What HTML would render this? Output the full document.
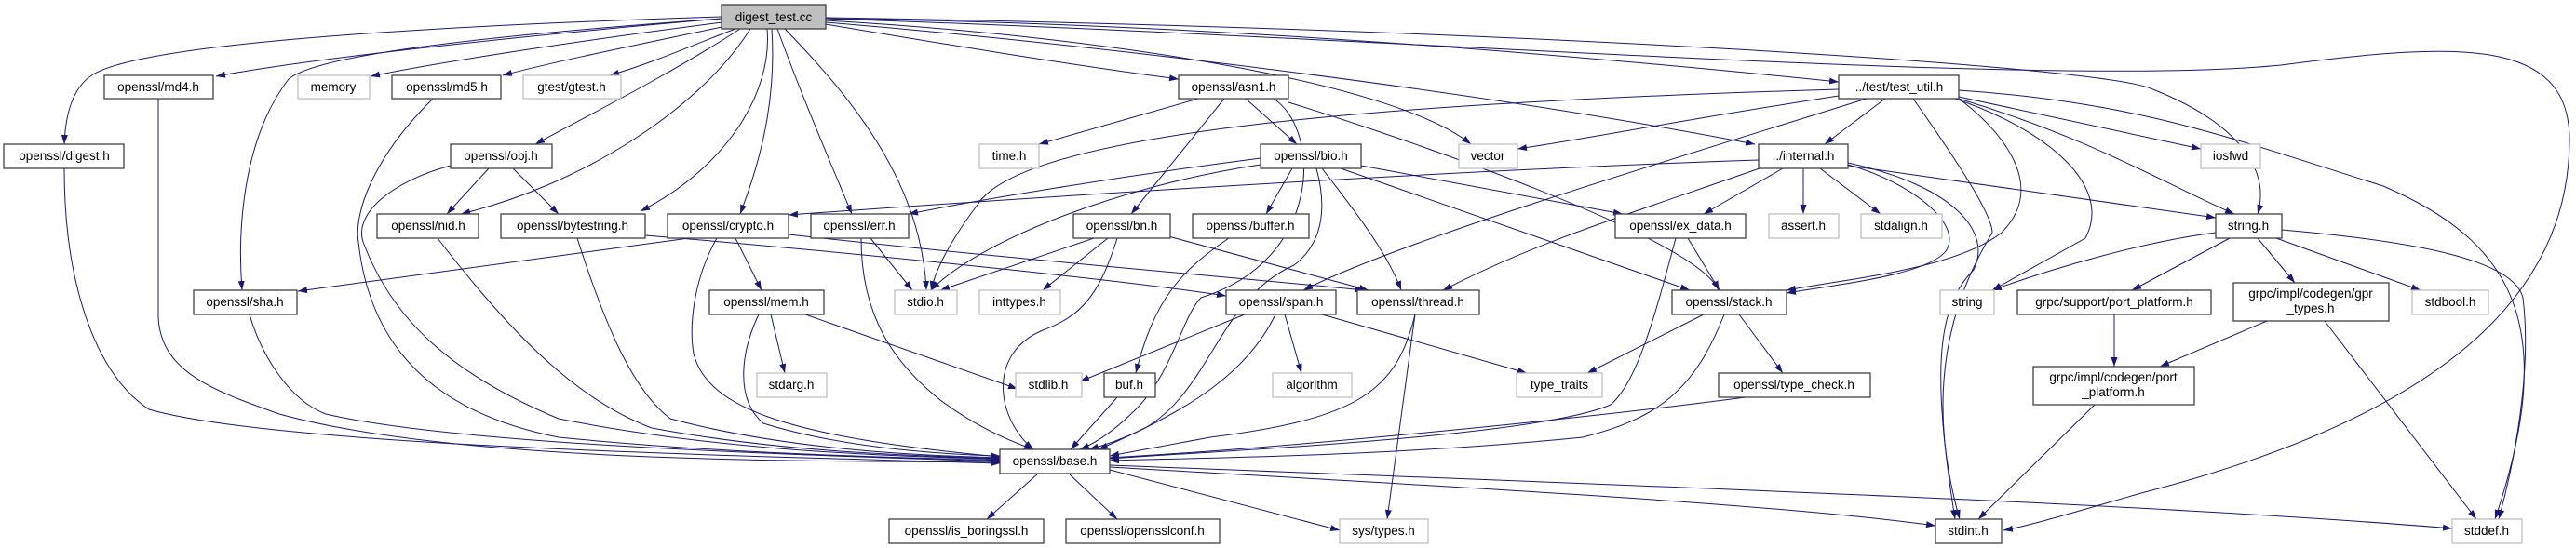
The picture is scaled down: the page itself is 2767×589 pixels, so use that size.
<!DOCTYPE html>
<html><head><meta charset="utf-8"><style>
html,body{margin:0;padding:0;background:#fff;}
svg{display:block;}
text{font-family:"Liberation Sans",sans-serif;font-size:13.5px;fill:#000;text-anchor:middle;}
.n{fill:#fff;stroke:#404040;stroke-width:1.3;}
.g{fill:#fff;stroke:#bfbfbf;stroke-width:1.3;}
.e{fill:none;stroke:#191970;stroke-width:1;marker-end:url(#a);}
</style></head><body>
<svg width="2767" height="589" viewBox="0 0 2767 589" xmlns="http://www.w3.org/2000/svg">
<defs><marker id="a" markerUnits="userSpaceOnUse" markerWidth="11" markerHeight="8" refX="10" refY="3.5" orient="auto"><path d="M0,0 L10,3.5 L0,7 z" fill="#191970"/></marker></defs>
<g>
<path class="e" d="M775,20 C600,35 350,60 232,82"/>
<path class="e" d="M776,24 C650,40 480,65 398,82"/>
<path class="e" d="M780,28 C700,45 600,65 540,81"/>
<path class="e" d="M790,31 C740,50 700,68 655,81"/>
<path class="e" d="M775,18 C400,30 150,50 100,80 C75,95 70,130 69,155"/>
<path class="e" d="M775,20 C500,40 340,60 310,85 C260,150 255,250 260,312"/>
<path class="e" d="M795,31 C720,80 620,130 575,155"/>
<path class="e" d="M806,31 C750,120 620,200 495,230"/>
<path class="e" d="M824,31 C830,100 780,180 688,227"/>
<path class="e" d="M829,31 C835,120 810,190 795,230"/>
<path class="e" d="M835,31 C860,100 890,170 915,230"/>
<path class="e" d="M843,31 C920,110 990,200 995,312"/>
<path class="e" d="M887,26 C1000,45 1150,70 1266,85"/>
<path class="e" d="M887,22 C1200,40 1500,90 1580,155"/>
<path class="e" d="M887,20 C1300,25 1700,60 1975,88"/>
<path class="e" d="M887,24 C1200,50 1600,100 1885,155"/>
<path class="e" d="M887,19 C1600,30 2250,70 2310,95 C2400,130 2440,180 2425,230"/>
<path class="e" d="M887,20 C1500,40 2200,95 2450,70 C2640,45 2760,40 2760,150 C2760,300 2650,440 2300,530 C2230,550 2180,565 2152,570"/>
<path class="e" d="M170,106 L170,340 C172,400 230,420 300,445 C500,500 900,495 1074,497"/>
<path class="e" d="M465,106 C400,170 380,230 385,260 C400,400 500,450 600,470 C800,490 1000,492 1074,495"/>
<path class="e" d="M69,181 C69,300 100,400 160,440 C300,480 800,490 1074,498"/>
<path class="e" d="M268,338 C280,380 310,430 350,445 C500,480 900,490 1074,496"/>
<path class="e" d="M525,181 L480,230"/>
<path class="e" d="M551,181 L600,230"/>
<path class="e" d="M484,178 C420,195 380,230 390,260 C420,340 480,400 600,450 C800,490 1000,490 1074,494"/>
<path class="e" d="M470,256 C550,360 620,430 700,460 C850,488 1000,490 1074,493"/>
<path class="e" d="M620,256 C650,350 680,420 720,450 C850,485 1000,490 1074,492"/>
<path class="e" d="M693,253 C900,270 1200,300 1317,318"/>
<path class="e" d="M740,256 L320,313"/>
<path class="e" d="M790,256 L818,312"/>
<path class="e" d="M770,256 C745,300 740,350 745,380 C760,440 850,470 1074,491"/>
<path class="e" d="M847,252 C1100,280 1350,300 1465,312"/>
<path class="e" d="M828,338 L843,401"/>
<path class="e" d="M865,338 L1093,418"/>
<path class="e" d="M815,338 C795,380 790,430 820,455 C900,480 1000,488 1074,490"/>
<path class="e" d="M935,256 L980,312"/>
<path class="e" d="M925,256 C925,340 960,390 1010,430 C1050,460 1090,476 1110,483"/>
<path class="e" d="M1287,106 L1116,155"/>
<path class="e" d="M1315,106 L1215,230"/>
<path class="e" d="M1338,106 L1393,155"/>
<path class="e" d="M1368,106 C1420,140 1420,280 1290,320 C1270,340 1260,400 1220,440 C1200,460 1180,475 1160,483"/>
<path class="e" d="M1384,110 C1450,130 1820,250 1846,312"/>
<path class="e" d="M1354,177 C1200,200 1050,260 1000,312"/>
<path class="e" d="M1354,170 C1200,190 1050,215 976,230"/>
<path class="e" d="M1388,181 L1360,230"/>
<path class="e" d="M1462,178 L1743,230"/>
<path class="e" d="M1440,181 L1815,312"/>
<path class="e" d="M1420,181 C1450,220 1490,270 1505,312"/>
<path class="e" d="M1414,181 C1430,240 1410,270 1390,285 C1310,320 1300,420 1230,460 C1200,475 1180,480 1170,483"/>
<path class="e" d="M1175,256 L1010,312"/>
<path class="e" d="M1190,256 L1120,312"/>
<path class="e" d="M1200,256 C1180,320 1160,340 1120,355 C1060,380 1070,450 1110,483"/>
<path class="e" d="M1255,254 L1470,312"/>
<path class="e" d="M1320,256 C1270,290 1240,320 1220,401"/>
<path class="e" d="M1200,427 L1150,483"/>
<path class="e" d="M1337,338 L1160,410"/>
<path class="e" d="M1380,338 L1398,401"/>
<path class="e" d="M1420,338 L1640,401"/>
<path class="e" d="M1370,338 C1340,400 1280,440 1180,483"/>
<path class="e" d="M1520,338 C1500,420 1460,450 1300,470 L1192,490"/>
<path class="e" d="M1520,338 L1490,558"/>
<path class="e" d="M1813,256 L1847,312"/>
<path class="e" d="M1800,256 C1780,330 1760,410 1730,435 C1650,470 1300,485 1192,493"/>
<path class="e" d="M1830,338 L1705,401"/>
<path class="e" d="M1868,338 L1915,401"/>
<path class="e" d="M1852,338 C1820,420 1780,450 1700,470 C1500,490 1300,492 1192,495"/>
<path class="e" d="M1875,427 C1700,450 1400,480 1192,492"/>
<path class="e" d="M1889,172 C1500,185 1000,220 847,231"/>
<path class="e" d="M1915,181 L1830,230"/>
<path class="e" d="M1937,181 L1937,230"/>
<path class="e" d="M1955,181 L2020,230"/>
<path class="e" d="M1985,177 C2050,195 2110,240 2090,270 C2070,295 1980,305 1919,315"/>
<path class="e" d="M1890,181 C1750,230 1650,260 1550,312"/>
<path class="e" d="M1985,178 L2380,234"/>
<path class="e" d="M1985,175 C2100,200 2140,250 2120,290 C2080,330 2075,400 2100,558"/>
<path class="e" d="M1975,103 C1800,130 1700,150 1630,160"/>
<path class="e" d="M2025,106 L1960,155"/>
<path class="e" d="M1975,96 C1500,110 1100,140 1050,220 C1020,260 1005,290 1000,312"/>
<path class="e" d="M2005,106 C1800,170 1500,260 1400,312"/>
<path class="e" d="M2104,106 C2150,140 2200,200 2150,250 C2100,290 1980,300 1919,312"/>
<path class="e" d="M2100,106 C2200,140 2270,200 2240,256 L2140,312"/>
<path class="e" d="M2104,104 L2364,160"/>
<path class="e" d="M2104,106 C2250,150 2330,200 2400,230"/>
<path class="e" d="M2104,97 C2300,110 2400,150 2560,200 C2700,260 2750,350 2680,558"/>
<path class="e" d="M2055,106 C2100,170 2140,230 2140,250 C2110,300 2060,400 2105,558"/>
<path class="e" d="M2380,250 C2300,260 2200,290 2140,312"/>
<path class="e" d="M2395,256 L2290,312"/>
<path class="e" d="M2425,256 L2465,304"/>
<path class="e" d="M2445,256 L2600,312"/>
<path class="e" d="M2451,247 C2600,260 2700,280 2710,320 C2720,400 2700,500 2684,558"/>
<path class="e" d="M2271,338 L2271,394"/>
<path class="e" d="M2435,345 L2320,394"/>
<path class="e" d="M2497,345 L2660,558"/>
<path class="e" d="M2250,435 L2125,558"/>
<path class="e" d="M1115,509 L1060,558"/>
<path class="e" d="M1148,509 L1200,558"/>
<path class="e" d="M1192,505 L1439,570"/>
<path class="e" d="M1192,502 C1500,520 1900,540 2079,565"/>
<path class="e" d="M1192,500 C1700,520 2300,540 2634,568"/>
</g>
<g>
<rect x="775" y="5" width="112" height="26" fill="#bfbfbf" stroke="#404040" stroke-width="1.3"/><text x="831" y="23">digest_test.cc</text>
<rect class="n" x="112" y="81" width="117" height="25"/><text x="170" y="98">openssl/md4.h</text>
<rect class="g" x="320" y="81" width="77" height="25"/><text x="358" y="98">memory</text>
<rect class="n" x="421" y="81" width="117" height="25"/><text x="480" y="98">openssl/md5.h</text>
<rect class="g" x="562" y="81" width="105" height="25"/><text x="614" y="98">gtest/gtest.h</text>
<rect class="n" x="1266" y="81" width="118" height="25"/><text x="1325" y="98">openssl/asn1.h</text>
<rect class="n" x="1975" y="81" width="129" height="25"/><text x="2040" y="98">../test/test_util.h</text>
<rect class="n" x="4" y="155" width="129" height="26"/><text x="69" y="172">openssl/digest.h</text>
<rect class="n" x="484" y="155" width="109" height="26"/><text x="538" y="172">openssl/obj.h</text>
<rect class="g" x="1052" y="155" width="64" height="26"/><text x="1084" y="172">time.h</text>
<rect class="n" x="1354" y="155" width="108" height="26"/><text x="1408" y="172">openssl/bio.h</text>
<rect class="g" x="1567" y="155" width="63" height="26"/><text x="1598" y="172">vector</text>
<rect class="n" x="1889" y="155" width="96" height="26"/><text x="1937" y="172">../internal.h</text>
<rect class="g" x="2364" y="155" width="64" height="26"/><text x="2396" y="172">iosfwd</text>
<rect class="n" x="405" y="230" width="109" height="26"/><text x="460" y="247">openssl/nid.h</text>
<rect class="n" x="538" y="230" width="155" height="26"/><text x="615" y="247">openssl/bytestring.h</text>
<rect class="n" x="717" y="230" width="130" height="26"/><text x="782" y="247">openssl/crypto.h</text>
<rect class="n" x="871" y="230" width="105" height="26"/><text x="923" y="247">openssl/err.h</text>
<rect class="n" x="1153" y="230" width="104" height="26"/><text x="1205" y="247">openssl/bn.h</text>
<rect class="n" x="1281" y="230" width="125" height="26"/><text x="1343" y="247">openssl/buffer.h</text>
<rect class="n" x="1735" y="230" width="140" height="26"/><text x="1805" y="247">openssl/ex_data.h</text>
<rect class="g" x="1900" y="230" width="75" height="26"/><text x="1937" y="247">assert.h</text>
<rect class="g" x="1999" y="230" width="87" height="26"/><text x="2042" y="247">stdalign.h</text>
<rect class="n" x="2380" y="230" width="71" height="26"/><text x="2415" y="247">string.h</text>
<rect class="n" x="208" y="312" width="111" height="26"/><text x="263" y="329">openssl/sha.h</text>
<rect class="n" x="762" y="312" width="123" height="26"/><text x="823" y="329">openssl/mem.h</text>
<rect class="g" x="961" y="312" width="67" height="26"/><text x="994" y="329">stdio.h</text>
<rect class="g" x="1052" y="312" width="87" height="26"/><text x="1095" y="329">inttypes.h</text>
<rect class="n" x="1317" y="312" width="118" height="26"/><text x="1376" y="329">openssl/span.h</text>
<rect class="n" x="1458" y="312" width="131" height="26"/><text x="1523" y="329">openssl/thread.h</text>
<rect class="n" x="1796" y="312" width="123" height="26"/><text x="1857" y="329">openssl/stack.h</text>
<rect class="g" x="2084" y="312" width="58" height="26"/><text x="2113" y="329">string</text>
<rect class="n" x="2167" y="312" width="208" height="26"/><text x="2271" y="329">grpc/support/port_platform.h</text>
<rect class="n" x="2399" y="304" width="167" height="41"/><text x="2482" y="320">grpc/impl/codegen/gpr</text><text x="2482" y="336">_types.h</text>
<rect class="g" x="2591" y="312" width="82" height="26"/><text x="2632" y="329">stdbool.h</text>
<rect class="g" x="813" y="401" width="75" height="26"/><text x="850" y="418">stdarg.h</text>
<rect class="g" x="1091" y="401" width="71" height="26"/><text x="1126" y="418">stdlib.h</text>
<rect class="n" x="1186" y="401" width="55" height="26"/><text x="1213" y="418">buf.h</text>
<rect class="g" x="1367" y="401" width="85" height="26"/><text x="1409" y="418">algorithm</text>
<rect class="g" x="1629" y="401" width="92" height="26"/><text x="1675" y="418">type_traits</text>
<rect class="n" x="1846" y="401" width="163" height="26"/><text x="1927" y="418">openssl/type_check.h</text>
<rect class="n" x="2184" y="394" width="173" height="41"/><text x="2270" y="410">grpc/impl/codegen/port</text><text x="2270" y="426">_platform.h</text>
<rect class="n" x="1074" y="483" width="118" height="26"/><text x="1133" y="500">openssl/base.h</text>
<rect class="n" x="955" y="558" width="166" height="26"/><text x="1038" y="575">openssl/is_boringssl.h</text>
<rect class="n" x="1145" y="558" width="165" height="26"/><text x="1227" y="575">openssl/opensslconf.h</text>
<rect class="g" x="1439" y="558" width="95" height="26"/><text x="1486" y="575">sys/types.h</text>
<rect class="n" x="2079" y="558" width="71" height="26"/><text x="2114" y="575">stdint.h</text>
<rect class="g" x="2634" y="558" width="75" height="26"/><text x="2671" y="575">stddef.h</text>
</g>
</svg>
</body></html>
